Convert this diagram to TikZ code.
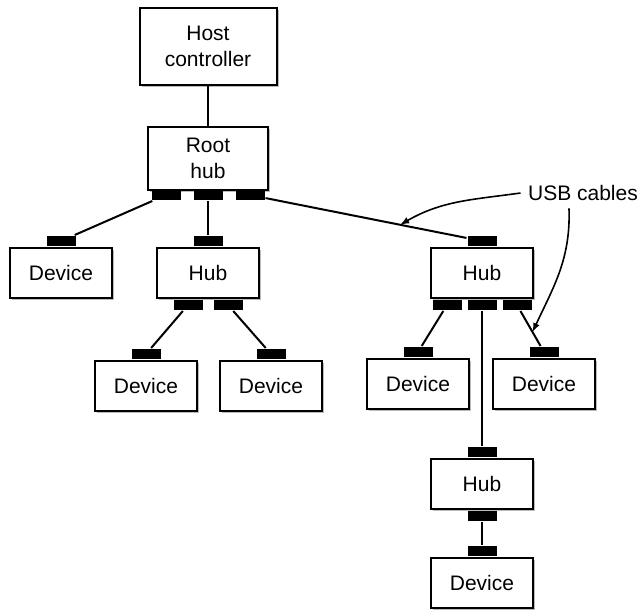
\documentclass[tikz,border=0pt]{standalone}
\usepackage{fontspec}
\setmainfont{Liberation Sans}
\usetikzlibrary{positioning}
\usetikzlibrary{shadows}
\usetikzlibrary{arrows.meta}
\tikzstyle{B} = [rectangle,draw=black,fill=white,minimum width=51pt,minimum height=25pt,align=center,drop shadow={shadow xshift=1.2pt,shadow yshift=-1.2pt,fill=black!45,opacity=0.6}]
\tikzstyle{P} = [rectangle,fill=black,minimum width=14.5pt,minimum height=5pt,inner sep=0pt]
\tikzset{>={Latex[length=4.5pt,width=3.5pt]}}

\begin{document}
\begin{tikzpicture}[line width=1pt,font=\fontsize{10.5}{13}\selectfont]
  \useasboundingbox (0,0) rectangle (321.5pt,-306pt);

  \node [B,minimum width=68.5pt,minimum height=38.5pt] (host) at (104pt,-23.25pt) {Host\\controller};
  \node [B,minimum width=60pt,minimum height=31.5pt,below=20pt of host] (root) {Root\\hub};
  \node [P,below=-1pt of root.south,xshift=-21pt] (rp1) {};
  \node [P,below=-1pt of root.south] (rp2) {};
  \node [P,below=-1pt of root.south,xshift=21pt] (rp3) {};
  \draw (host) -- (root);

  % first row
  \node [B,below=28pt of root] (hl) {Hub};
  \node [B,left=21.5pt of hl] (d1) {Device};
  \node [B,right=85pt of hl] (hr) {Hub};
  \node [P,above=0pt of hl] (hlp0) {};
  \node [P,above=0pt of d1] (d1p) {};
  \node [P,above=0pt of hr] (hrp0) {};
  \node [P,below=0pt of hl.south,xshift=-10pt] (hlp1) {};
  \node [P,below=0pt of hl.south,xshift=10pt] (hlp2) {};
  \node [P,below=0pt of hr.south,xshift=-17.5pt] (hrp1) {};
  \node [P,below=0pt of hr.south] (hrp2) {};
  \node [P,below=0pt of hr.south,xshift=17.5pt] (hrp3) {};
  \draw (rp1) -- (d1p);
  \draw (rp2) -- (hlp0);
  \draw (rp3) -- (hrp0);

  % second row
  \node [B,below=30.5pt of hl,xshift=-31pt] (d2) {Device};
  \node [B,below=30.5pt of hl,xshift=31.5pt] (d3) {Device};
  \node [B,below=29.5pt of hr,xshift=-32pt] (d4) {Device};
  \node [B,below=29.5pt of hr,xshift=31pt] (d5) {Device};
  \node [P,above=0pt of d2] (d2p) {};
  \node [P,above=0pt of d3] (d3p) {};
  \node [P,above=0pt of d4] (d4p) {};
  \node [P,above=0pt of d5] (d5p) {};
  \draw (hlp1) -- (d2p);
  \draw (hlp2) -- (d3p);
  \draw (hrp1) -- (d4p);
  \draw (hrp3) -- (d5p);

  % last hub
  \node [B,below=79.5pt of hr] (h3) {Hub};
  \node [B,below=23.5pt of h3] (d6) {Device};
  \node [P,above=0pt of h3] (h3p0) {};
  \node [P,below=0pt of h3.south] (h3p1) {};
  \node [P,above=0pt of d6] (d6p) {};
  \draw (hrp2) -- (h3p0);
  \draw (h3p1) -- (d6p);

  % label
  \path (rp3) -- (hrp0) coordinate [pos=0.67] (c1);
  \path (hrp3) -- (d5p) coordinate [pos=0.6] (c2);
  \node (usb) at (291.5pt,-96.5pt) {USB cables};
  \draw [->,line width=0.8pt] (usb.west) to [out=188,in=30] (c1);
  \draw [->,line width=0.8pt] ([xshift=-7pt]usb.south) to [out=-88,in=65] (c2);
\end{tikzpicture}
\end{document}
